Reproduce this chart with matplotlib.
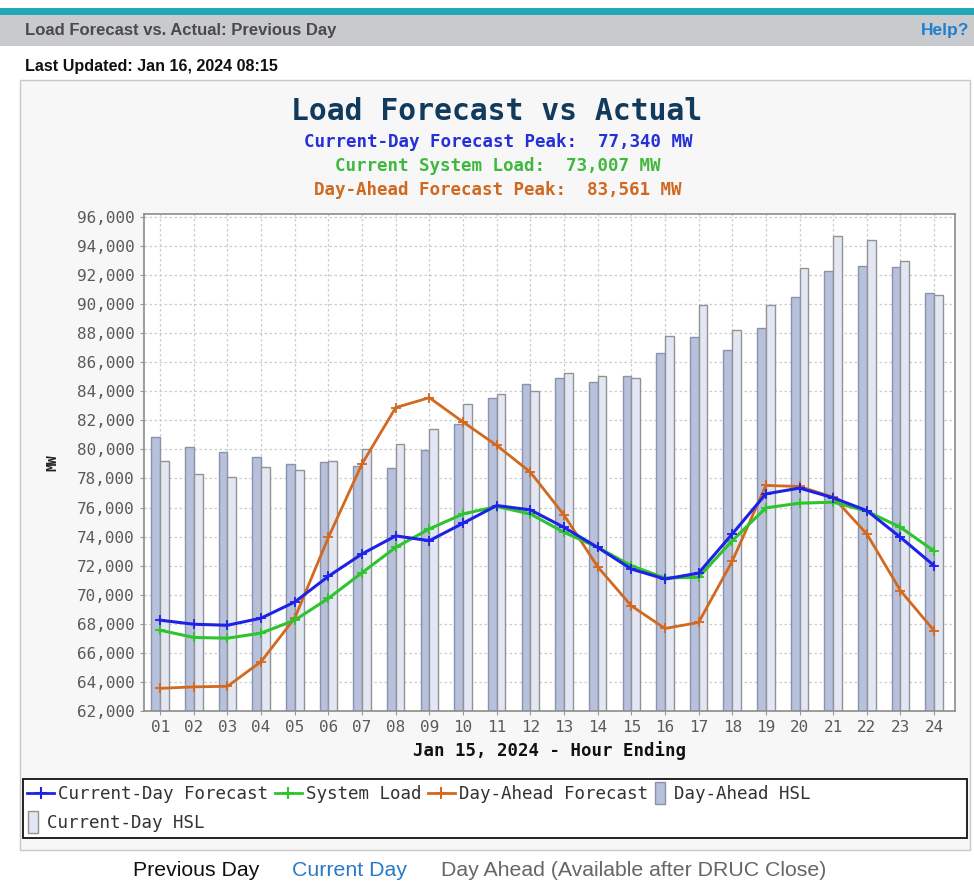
import numpy as np
import matplotlib
matplotlib.use("Agg")
import matplotlib.pyplot as plt
from matplotlib.patches import Rectangle
from matplotlib.lines import Line2D
from matplotlib.legend_handler import HandlerPatch
from matplotlib.ticker import FuncFormatter, MultipleLocator

# hourly values (MW)
hours = ['01', '02', '03', '04', '05', '06', '07', '08', '09', '10', '11', '12',
         '13', '14', '15', '16', '17', '18', '19', '20', '21', '22', '23', '24']

current_day_forecast = [68250, 67970, 67900, 68390, 69500, 71270, 72810, 74050, 73720, 74920, 76140, 75840,
                        74640, 73260, 71770, 71080, 71490, 74180, 76940, 77340, 76670, 75790, 73950, 72000]
system_load = [67560, 67060, 67010, 67360, 68250, 69750, 71520, 73260, 74530, 75560, 76070, 75560,
               74300, 73260, 72000, 71150, 71200, 73720, 75980, 76300, 76370, 75750, 74640, 73007]
day_ahead_forecast = [63560, 63660, 63700, 65400, 68400, 73950, 79010, 82880, 83561, 81890, 80280, 78440,
                      75490, 71930, 69240, 67680, 68090, 72300, 77520, 77450, 76710, 74180, 70280, 67520]
day_ahead_hsl = [80850, 80180, 79790, 79470, 79030, 79150, 78870, 78690, 79980, 81770, 83560, 84480,
                 84920, 84620, 85030, 86640, 87750, 86830, 88340, 90500, 92280, 92640, 92570, 90780]
current_day_hsl = [79190, 78280, 78120, 78780, 78600, 79190, 80020, 80340, 81400, 83100, 83810, 84000,
                   85280, 85060, 84920, 87790, 89910, 88210, 89910, 92460, 94710, 94410, 92990, 90600]

W, H = 974, 890
fig = plt.figure(figsize=(W / 100, H / 100), dpi=100, facecolor='white')


def fx(x):
    return x / W


def fy(y):
    return 1 - y / H


def box(x0, y0, x1, y1, **kw):
    fig.add_artist(Rectangle((fx(x0), fy(y1)), fx(x1) - fx(x0), fy(y0) - fy(y1),
                             transform=fig.transFigure, **kw))


# page header
box(0, 8, W, 15, facecolor='#1fa9b5', edgecolor='none', zorder=-5)
box(0, 15, W, 46, facecolor='#c9cacd', edgecolor='none', zorder=-5)
fig.text(fx(25), fy(30), 'Load Forecast vs. Actual: Previous Day', family='Liberation Sans',
         fontsize=12, fontweight='bold', color='#4a4a4a', va='center', ha='left')
fig.text(fx(969), fy(30), 'Help?', family='Liberation Sans', fontsize=12.5, color='#1f7fd0',
         fontweight='bold', va='center', ha='right')
fig.text(fx(25), fy(66), 'Last Updated: Jan 16, 2024 08:15', family='Liberation Sans',
         fontsize=11.6, fontweight='bold', color='#111111', va='center', ha='left')

# chart panel
box(20, 80, 970, 850, facecolor='#f7f7f7', edgecolor='#c8c8c8', linewidth=1, zorder=-5)

mono = 'DejaVu Sans Mono'
fig.text(fx(497), fy(112), 'Load Forecast vs Actual', family=mono, fontsize=21.4,
         fontweight='bold', color='#123a5c', ha='center', va='center')
fig.text(fx(498), fy(142), 'Current-Day Forecast Peak:  77,340 MW', family=mono, fontsize=12.6,
         fontweight='bold', color='#2630d8', ha='center', va='center')
fig.text(fx(498), fy(166), 'Current System Load:  73,007 MW', family=mono, fontsize=12.6,
         fontweight='bold', color='#40b840', ha='center', va='center')
fig.text(fx(498), fy(190), 'Day-Ahead Forecast Peak:  83,561 MW', family=mono, fontsize=12.6,
         fontweight='bold', color='#d0691f', ha='center', va='center')

ax = fig.add_axes([fx(144), fy(711), fx(955) - fx(144), fy(214) - fy(711)])
ax.set_facecolor('white')

x = np.arange(1, len(hours) + 1)
bw = 0.26
ax.bar(x - bw / 2, day_ahead_hsl, width=bw, color='#b7c1dc', edgecolor='#8a93ab', linewidth=1, zorder=2)
ax.bar(x + bw / 2, current_day_hsl, width=bw, color='#e3e7f3', edgecolor='#939393', linewidth=1, zorder=2)

ax.plot(x, current_day_forecast, color='#1e22e6', lw=2.2, marker='+', ms=7, mew=1.3, zorder=5)
ax.plot(x, system_load, color='#2ec42e', lw=2.2, marker='+', ms=7, mew=1.3, zorder=4)
ax.plot(x, day_ahead_forecast, color='#d2691e', lw=2.0, marker='+', ms=7, mew=1.3, zorder=3)

ax.set_xlim(0.52, 24.62)
ax.set_ylim(62000, 96200)
ax.yaxis.set_major_locator(MultipleLocator(2000))
ax.yaxis.set_major_formatter(FuncFormatter(lambda v, p: f'{int(v):,}'))
ax.set_xticks(x)
ax.set_xticklabels(hours)
ax.grid(True, color='#cccccc', linestyle=(0, (2, 2)), linewidth=0.9, zorder=0)
ax.set_axisbelow(True)
for s in ax.spines.values():
    s.set_color('#8c8c8c')
    s.set_linewidth(1.2)
ax.tick_params(axis='both', labelsize=11.5, labelcolor='#5a5a5a', color='#999999', length=3)
for lab in ax.get_xticklabels() + ax.get_yticklabels():
    lab.set_family(mono)
ax.set_xlabel('Jan 15, 2024 - Hour Ending', family=mono, fontsize=12.5, fontweight='bold',
              color='#111111', labelpad=4)
ax.set_ylabel('MW', family=mono, fontsize=10, fontweight='bold', color='#222222', labelpad=13)


# legend: narrow bar swatches
def rect_left(legend, orig_handle, xdescent, ydescent, width, height, fontsize):
    rw = fontsize * 0.55
    return Rectangle((-xdescent + 1, -ydescent - height * 0.25), rw, height * 1.5)


box(23, 779, 967, 838, facecolor='white', edgecolor='#222222', linewidth=1.4, zorder=-4)
line_kw = dict(lw=2, marker='+', ms=9, mew=1.5)
line_handles = [
    Line2D([], [], color='#1e22e6', **line_kw),
    Line2D([], [], color='#2ec42e', **line_kw),
    Line2D([], [], color='#d2691e', **line_kw),
]
line_labels = ['Current-Day Forecast', 'System Load', 'Day-Ahead Forecast']
leg_prop = {'family': mono, 'size': 12.6}
fig.legend(line_handles, line_labels, loc='center left', bbox_to_anchor=(fx(27), fy(794)), ncol=3,
           frameon=False, prop=leg_prop, handlelength=1.55, handletextpad=0.25, columnspacing=0.35,
           borderaxespad=0, borderpad=0, labelcolor='#333333')

bar_kw = dict(frameon=False, prop=leg_prop, handlelength=0.9, handleheight=0.9, handletextpad=0.25,
              borderaxespad=0, borderpad=0, labelcolor='#333333', loc='center left',
              handler_map={Rectangle: HandlerPatch(patch_func=rect_left)})
fig.legend([Rectangle((0, 0), 1, 1, facecolor='#b7c1dc', edgecolor='#8a93ab')], ['Day-Ahead HSL'],
           bbox_to_anchor=(fx(654), fy(794)), **bar_kw)
fig.legend([Rectangle((0, 0), 1, 1, facecolor='#e3e7f3', edgecolor='#939393')], ['Current-Day HSL'],
           bbox_to_anchor=(fx(27), fy(823)), **bar_kw)

# bottom links
fig.text(fx(133), fy(871), 'Previous Day', family='Liberation Sans', fontsize=15.3,
         color='#111111', va='center', ha='left')
fig.text(fx(292), fy(871), 'Current Day', family='Liberation Sans', fontsize=15.3,
         color='#2a78c8', va='center', ha='left')
fig.text(fx(441), fy(871), 'Day Ahead (Available after DRUC Close)', family='Liberation Sans',
         fontsize=15.3, color='#666666', va='center', ha='left')

fig.savefig('out.png', dpi=100, facecolor='white')
